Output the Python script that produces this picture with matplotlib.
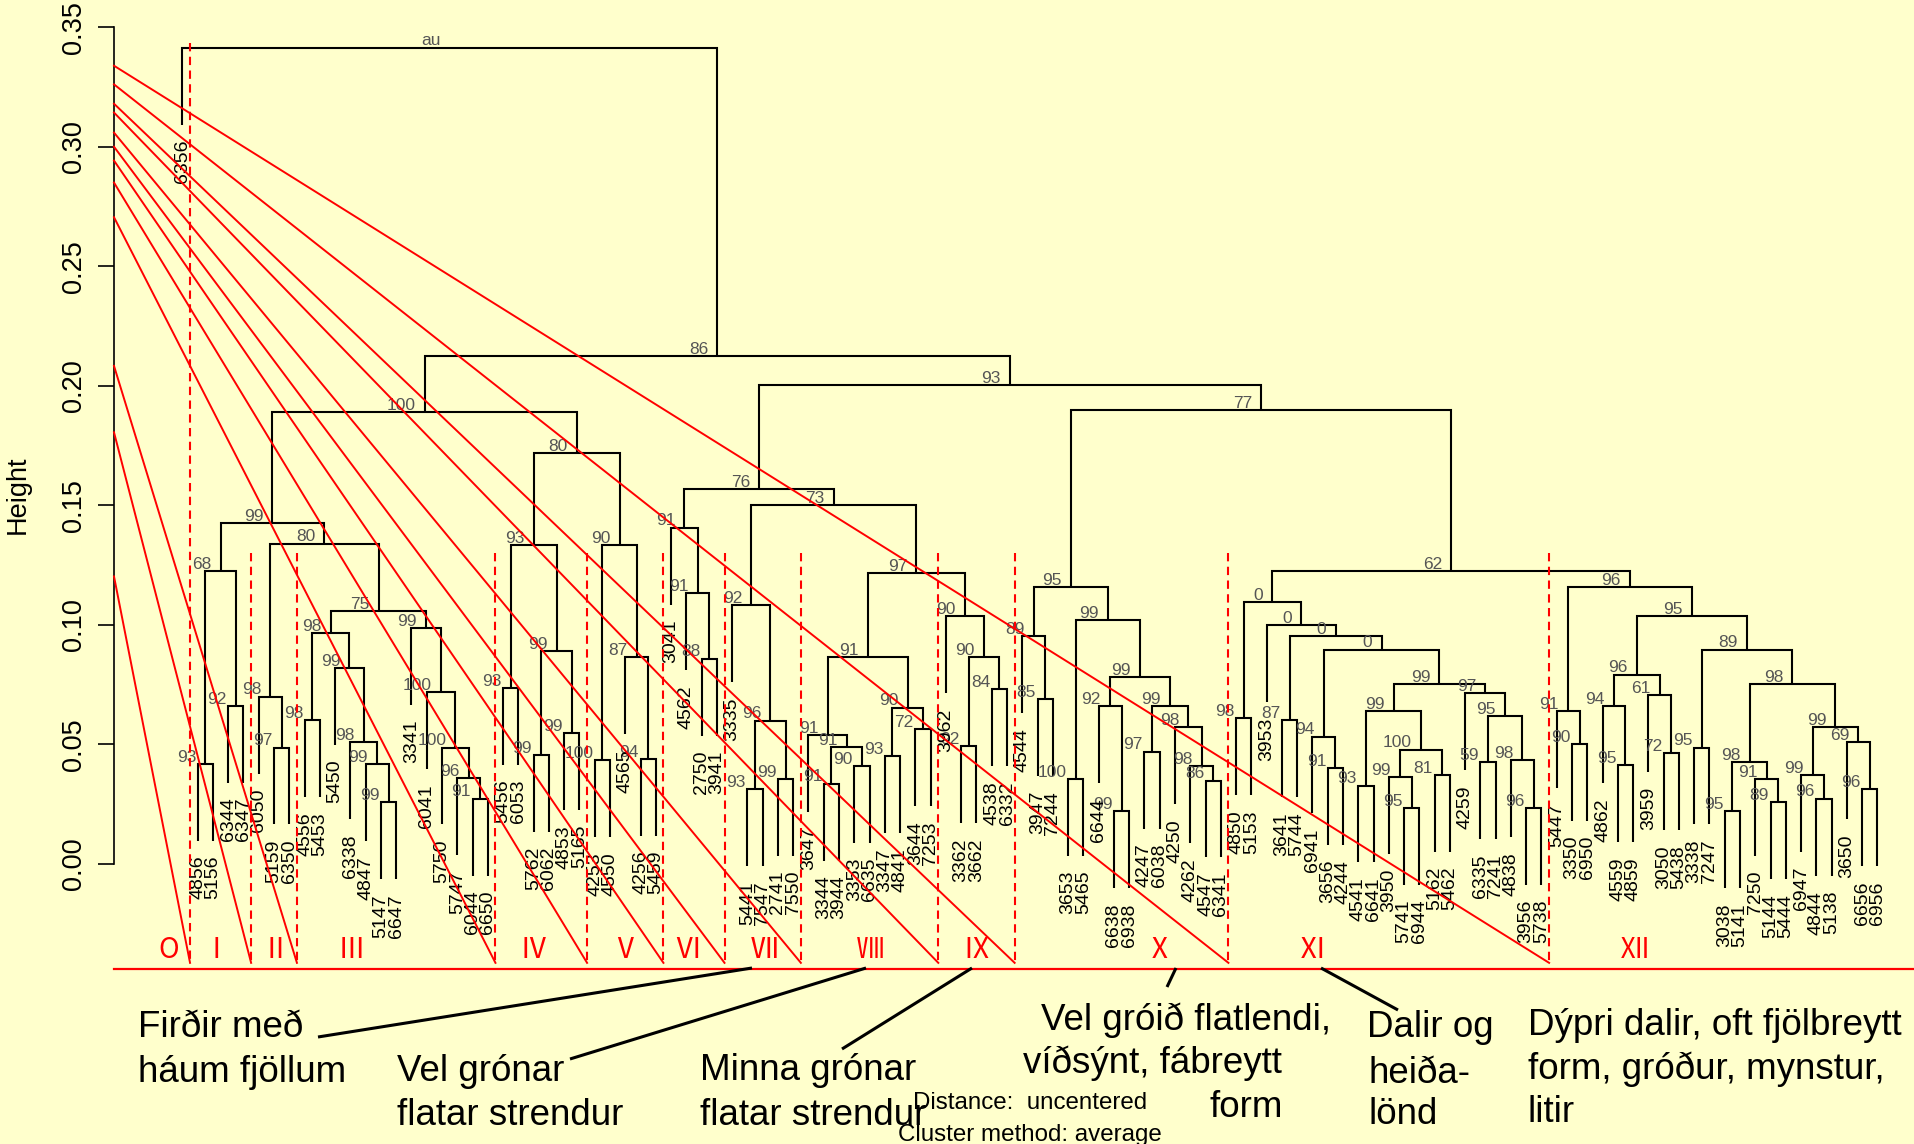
import matplotlib
matplotlib.use("Agg")
import matplotlib.pyplot as plt
import numpy as np

plt.rcParams["font.family"] = ["Liberation Sans", "DejaVu Sans"]

# leaf order of the dendrogram, left to right
leaves = [
    "6356", "4856", "5156", "6344", "6347", "6050", "5159", "6350", "4556", "5453",
    "5450", "6338", "4847", "5147", "6647", "3341", "6041", "5750", "5747", "6044",
    "6650", "5456", "6053", "5762", "6062", "4853", "5165", "4253", "4550", "4565",
    "4256", "5459", "3041", "4562", "2750", "3941", "3335", "5441", "7547", "2741",
    "7550", "3647", "3344", "3944", "3353", "6635", "3347", "4841", "3644", "7253",
    "3962", "3362", "3662", "4538", "6332", "4544", "3947", "7244", "3653", "5465",
    "6644", "6638", "6938", "4247", "6038", "4250", "4262", "4547", "6341", "4850",
    "5153", "3953", "3641", "5744", "6941", "3656", "4244", "4541", "6641", "3950",
    "5741", "6944", "5162", "5462", "4259", "6335", "7241", "4838", "3956", "5738",
    "5447", "3350", "6950", "4862", "4559", "4859", "3959", "3050", "5438", "3338",
    "7247", "3038", "5141", "7250", "5144", "5444", "6947", "4844", "5138", "3650",
    "6656", "6956",
]

# merges, bottom up: (node, left child, right child, height, au value)
merges = [
    ("a1", "4856", "5156", 0.0419, "93"),
    ("a2", "6344", "6347", 0.0662, "92"),
    ("I", "a1", "a2", 0.1225, "68"),
    ("b1", "5159", "6350", 0.0487, "97"),
    ("II", "6050", "b1", 0.0700, "98"),
    ("c1", "4556", "5453", 0.0602, "98"),
    ("c2", "5147", "6647", 0.0259, "99"),
    ("c3", "4847", "c2", 0.0418, "99"),
    ("c4", "6338", "c3", 0.0510, "98"),
    ("c5", "5450", "c4", 0.0821, "99"),
    ("c6", "c1", "c5", 0.0966, "98"),
    ("c7", "6044", "6650", 0.0273, "91"),
    ("c8", "5747", "c7", 0.0359, "96"),
    ("c9", "5750", "c8", 0.0487, "100"),
    ("c10", "6041", "c9", 0.0719, "100"),
    ("c11", "3341", "c10", 0.0988, "99"),
    ("III", "c6", "c11", 0.1058, "75"),
    ("II_III", "II", "III", 0.1340, "80"),
    ("I_III", "I", "II_III", 0.1425, "99"),
    ("d1", "5456", "6053", 0.0737, "93"),
    ("d2", "5762", "6062", 0.0457, "99"),
    ("d3", "4853", "5165", 0.0548, "99"),
    ("d4", "d2", "d3", 0.0891, "99"),
    ("IV", "d1", "d4", 0.1333, "93"),
    ("e1", "4253", "4550", 0.0433, "100"),
    ("e2", "4256", "5459", 0.0440, "94"),
    ("e3", "4565", "e2", 0.0866, "87"),
    ("V", "e1", "e3", 0.1333, "90"),
    ("IV_V", "IV", "V", 0.1720, "80"),
    ("I_V", "I_III", "IV_V", 0.1891, "100"),
    ("f1", "2750", "3941", 0.0859, "88"),
    ("f2", "4562", "f1", 0.1134, "91"),
    ("VI", "3041", "f2", 0.1407, "91"),
    ("g1", "5441", "7547", 0.0312, "93"),
    ("g2", "2741", "7550", 0.0356, "99"),
    ("g3", "g1", "g2", 0.0600, "96"),
    ("VII", "3335", "g3", 0.1082, "92"),
    ("h1", "3344", "3944", 0.0336, "91"),
    ("h2", "3353", "6635", 0.0410, "90"),
    ("h3", "h1", "h2", 0.0489, "91"),
    ("h4", "3647", "h3", 0.0540, "91"),
    ("h5", "3347", "4841", 0.0450, "93"),
    ("h6", "3644", "7253", 0.0563, "72"),
    ("h7", "h5", "h6", 0.0654, "90"),
    ("VIII", "h4", "h7", 0.0866, "91"),
    ("i1", "3362", "3662", 0.0493, "92"),
    ("i2", "4538", "6332", 0.0730, "84"),
    ("i3", "i1", "i2", 0.0866, "90"),
    ("IX", "3962", "i3", 0.1036, "90"),
    ("VIII_IX", "VIII", "IX", 0.1217, "97"),
    ("VII_IX", "VII", "VIII_IX", 0.1500, "73"),
    ("VI_IX", "VI", "VII_IX", 0.1567, "76"),
    ("j1", "3947", "7244", 0.0691, "85"),
    ("j2", "4544", "j1", 0.0952, "89"),
    ("j3", "3653", "5465", 0.0356, "100"),
    ("j4", "6638", "6938", 0.0220, "99"),
    ("j5", "6644", "j4", 0.0660, "92"),
    ("j6", "4247", "6038", 0.0470, "97"),
    ("j7", "4547", "6341", 0.0349, "86"),
    ("j8", "4262", "j7", 0.0410, "98"),
    ("j9", "4250", "j8", 0.0571, "98"),
    ("j10", "j6", "j9", 0.0660, "99"),
    ("j11", "j5", "j10", 0.0783, "99"),
    ("j12", "j3", "j11", 0.1019, "99"),
    ("X", "j2", "j12", 0.1159, "95"),
    ("k1", "4850", "5153", 0.0610, "98"),
    ("k2", "3641", "5744", 0.0602, "87"),
    ("k3", "3656", "4244", 0.0402, "91"),
    ("k4", "6941", "k3", 0.0533, "94"),
    ("k5", "4541", "6641", 0.0328, "93"),
    ("k6", "5741", "6944", 0.0235, "95"),
    ("k7", "3950", "k6", 0.0364, "99"),
    ("k8", "5162", "5462", 0.0373, "81"),
    ("k9", "k7", "k8", 0.0478, "100"),
    ("k10", "k5", "k9", 0.0640, "99"),
    ("k11", "6335", "7241", 0.0426, "59"),
    ("k12", "3956", "5738", 0.0235, "96"),
    ("k13", "4838", "k12", 0.0433, "98"),
    ("k14", "k11", "k13", 0.0617, "95"),
    ("k15", "4259", "k14", 0.0715, "97"),
    ("k16", "k10", "k15", 0.0754, "99"),
    ("k17", "k4", "k16", 0.0897, "0"),
    ("k18", "k2", "k17", 0.0952, "0"),
    ("k19", "3953", "k18", 0.0998, "0"),
    ("XI", "k1", "k19", 0.1096, "0"),
    ("l1", "3350", "6950", 0.0502, "90"),
    ("l2", "5447", "l1", 0.0638, "91"),
    ("l3", "4559", "4859", 0.0412, "95"),
    ("l4", "4862", "l3", 0.0660, "94"),
    ("l5", "3050", "5438", 0.0464, "72"),
    ("l6", "3959", "l5", 0.0708, "61"),
    ("l7", "l4", "l6", 0.0792, "96"),
    ("l8", "3338", "7247", 0.0487, "95"),
    ("l9", "3038", "5141", 0.0221, "95"),
    ("l10", "5144", "5444", 0.0259, "89"),
    ("l11", "7250", "l10", 0.0356, "91"),
    ("l12", "l9", "l11", 0.0426, "98"),
    ("l13", "4844", "5138", 0.0273, "96"),
    ("l14", "6947", "l13", 0.0373, "99"),
    ("l15", "6656", "6956", 0.0312, "96"),
    ("l16", "3650", "l15", 0.0510, "69"),
    ("l17", "l14", "l16", 0.0571, "99"),
    ("l18", "l12", "l17", 0.0753, "98"),
    ("l19", "l8", "l18", 0.0897, "89"),
    ("l20", "l7", "l19", 0.1037, "95"),
    ("XII", "l2", "l20", 0.1159, "96"),
    ("XI_XII", "XI", "XII", 0.1226, "62"),
    ("X_XII", "X", "XI_XII", 0.1898, "77"),
    ("VI_XII", "VI_IX", "X_XII", 0.2002, "93"),
    ("I_XII", "I_V", "VI_XII", 0.2125, "86"),
    ("root", "6356", "I_XII", 0.3416, "au"),
]

# cluster cuts (between leaf positions) and the start height of each red guide line
cluster_cuts = [1.5, 5.5, 8.5, 21.5, 27.5, 32.5, 36.5, 41.5, 50.5, 55.5, 69.5, 90.5]
guide_start = [0.1203, 0.1806, 0.2084, 0.2706, 0.2851, 0.2943, 0.3001, 0.3060,
               0.3144, 0.3181, 0.3262, 0.3340]
cluster_names = ["O", "Ⅰ", "Ⅱ", "Ⅲ", "Ⅳ", "Ⅴ", "Ⅵ", "Ⅶ", "Ⅷ", "Ⅸ", "Ⅹ", "Ⅺ", "Ⅻ"]
cluster_name_x = [0.1, 3.2, 7.1, 12.1, 24.0, 30.0, 34.1, 39.1, 46.1, 53.0, 65.0, 75.0, 96.1]

# text notes under the chart (pixel layout)
notes = [
    (138, 1037, "Firðir með"), (138, 1082, "háum fjöllum"),
    (397, 1081, "Vel grónar"), (397, 1125, "flatar strendur"),
    (700, 1080, "Minna grónar"), (700, 1125, "flatar strendur"),
    (1041, 1030, "Vel gróið flatlendi,"), (1023, 1073, "víðsýnt, fábreytt"),
    (1210, 1117, "form"),
    (1367, 1037, "Dalir og"), (1369, 1083, "heiða-"), (1369, 1124, "lönd"),
    (1528, 1035, "Dýpri dalir, oft fjölbreytt"), (1528, 1079, "form, gróður, mynstur,"),
    (1528, 1122, "litir"),
]
pointers = [
    ((318, 1037), (752, 968)),
    ((570, 1059), (866, 968)),
    ((842, 1049), (972, 968)),
    ((1167, 987), (1176, 968)),
    ((1321, 968), (1398, 1010)),
]

hang = 0.0322
bg = "#FFFFCC"

fig = plt.figure(figsize=(19.15, 11.44), dpi=100, facecolor=bg)
ax = fig.add_axes([0, 0, 1, 1], facecolor=bg)
ax.set_xlim(-10.945, 114.46)
ax.set_ylim(-0.1172, 0.3615)
x_axis = -3.48

xpos = {name: i + 1 for i, name in enumerate(leaves)}
height = {}
for node, left, right, h, au in merges:
    xpos[node] = (xpos[left] + xpos[right]) / 2
    height[node] = h

for node, left, right, h, au in merges:
    xl, xr = xpos[left], xpos[right]
    bl = height.get(left, h - hang)
    br = height.get(right, h - hang)
    ax.plot([xl, xl, xr, xr], [bl, h, h, br], color="black", lw=1.5,
            solid_capstyle="butt", solid_joinstyle="miter", zorder=2)
    ax.text(xpos[node] - 0.6, h + 0.0028, au, ha="right", va="center",
            fontsize=12.5, color="#555555", zorder=3)
    for child in (left, right):
        if child not in height:
            ax.text(xpos[child], h - hang - 0.0063, child, rotation=90,
                    ha="center", va="top", fontsize=14, color="black", zorder=3)

# red overlay: cluster cuts, guide lines, baseline
bottom = -0.0414
for i, cut in enumerate(cluster_cuts):
    top = 0.3435 if i == 0 else 0.130
    ax.plot([cut, cut], [top, bottom], color="red", lw=1.5, ls=(0, (4, 2.6)), zorder=4)
    ax.plot([x_axis, cut], [guide_start[i], bottom], color="red", lw=1.4, zorder=4)
ax.plot([x_axis, 114.46], [-0.0439, -0.0439], color="red", lw=1.6, zorder=4)
for name, x in zip(cluster_names, cluster_name_x):
    ax.text(x, -0.036, name, ha="center", va="center", fontsize=20, color="red",
            family=["Noto Sans CJK JP", "DejaVu Sans"], zorder=4)

# axis
for side in ("top", "right", "bottom"):
    ax.spines[side].set_visible(False)
ax.spines["left"].set_position(("data", x_axis))
ax.spines["left"].set_bounds(0, 0.35)
ax.spines["left"].set_linewidth(1.2)
ax.set_xticks([])
yt = np.arange(0, 0.351, 0.05)
ax.set_yticks(yt)
ax.set_yticklabels([f"{v:.2f}" for v in yt])
ax.tick_params(axis="y", length=11.5, width=1.2, pad=8, labelsize=19.5, labelrotation=90)
for lab in ax.get_yticklabels():
    lab.set_va("center")

# overlay in pixel units for the notes
ov = fig.add_axes([0, 0, 1, 1], facecolor="none")
ov.set_xlim(0, 1915)
ov.set_ylim(1144, 0)
ov.axis("off")
ov.text(18, 495, "Height", rotation=90, ha="center", va="center", fontsize=19.5)
for x, y, s in notes:
    ov.text(x, y, s, ha="left", va="baseline", fontsize=26.5, color="black")
for (x0, y0), (x1, y1) in pointers:
    ov.plot([x0, x1], [y0, y1], color="black", lw=2.2, solid_capstyle="butt")
ov.text(913, 1109, "Distance:  uncentered", ha="left", va="baseline", fontsize=17.4)
ov.text(898, 1141, "Cluster method: average", ha="left", va="baseline", fontsize=17.4)

fig.savefig("out.png", dpi=100, facecolor=bg)
